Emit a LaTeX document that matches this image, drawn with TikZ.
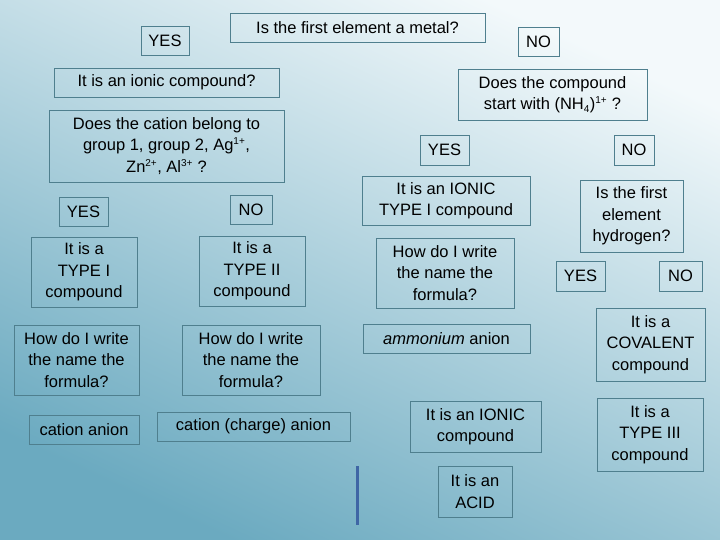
\documentclass[tikz,border=0pt]{standalone}
\usepackage{fontspec}
\setmainfont{Liberation Sans}
\usetikzlibrary{calc}
\definecolor{boxline}{HTML}{4F7F8E}
\definecolor{seapale}{HTML}{F3F9FB}
\definecolor{seadark}{HTML}{6BAAC0}
% box from corner (x1,y1) to (x2,y2) in pixels
\newcommand{\flowbox}[6]{%
  \node[box, minimum width={(#4-#2)*1pt}, minimum height={(#5-#3)*1pt}]
    (#1) at ({(#2+#4)/2},{(#3+#5)/2}) {#6};}
\newcommand{\sups}[1]{\textsuperscript{\fontsize{10}{10}\selectfont #1}}
\begin{document}
\begin{tikzpicture}[
    x=1pt, y=-1pt,
    box/.style={draw=boxline, line width=0.8pt, inner sep=0pt, align=center,
      font=\fontsize{16.5}{21.5}\selectfont},
    bar/.style={draw=boxline!80!blue, line width=3pt}
    ]
    % Background
    \useasboundingbox (0,0) rectangle (720,540);
    \fill[seapale] (0,0) rectangle (720,540);
    \shade[top color=seapale, middle color=seapale, bottom color=seadark,
      shading angle=-25] (0,0) rectangle (720,540);
    % Top row
    \flowbox{yesA}{141}{26}{189}{55}{YES}
    \flowbox{metal}{230}{13}{485}{42}{Is the first element a metal?}
    \flowbox{noA}{518}{27}{559}{56}{NO}
    % Left branch
    \flowbox{ionicq}{54}{68}{279}{97}{It is an ionic compound?}
    \flowbox{cation}{49}{110}{284}{182}{Does the cation belong to\\group 1, group 2, Ag\sups{1+},\\Zn\sups{2+}, Al\sups{3+} ?}
    \flowbox{yesL}{59}{197}{108}{226}{YES}
    \flowbox{noL}{230}{195}{272}{224}{NO}
    \flowbox{typeI}{31}{237}{137}{307}{It is a\\TYPE I\\compound}
    \flowbox{typeII}{199}{236}{305}{306}{It is a\\TYPE II\\compound}
    \flowbox{howL}{14}{325}{139}{395}{How do I write\\the name the\\formula?}
    \flowbox{howM}{182}{325}{320}{395}{How do I write\\the name the\\formula?}
    \flowbox{catan}{29}{415}{139}{444}{cation anion}
    \flowbox{catchg}{157}{412}{350}{441}{cation (charge) anion}
    % Right branch
    \flowbox{ammq}{458}{69}{647}{120}{Does the compound\\start with (NH\textsubscript{\fontsize{10}{10}\selectfont 4})\sups{1+} ?}
    \flowbox{yesR}{420}{135}{469}{165}{YES}
    \flowbox{noR}{614}{135}{654}{165}{NO}
    \flowbox{ionicI}{362}{176}{530}{225}{It is an IONIC\\TYPE I compound}
    \flowbox{howR}{376}{238}{514}{308}{How do I write\\the name the\\formula?}
    \flowbox{amman}{363}{324}{530}{353}{\textit{ammonium} anion}
    \flowbox{hydro}{580}{180}{683}{252}{Is the first\\element\\hydrogen?}
    \flowbox{yesH}{556}{261}{605}{291}{YES}
    \flowbox{noH}{659}{261}{702}{291}{NO}
    \flowbox{coval}{596}{308}{705}{381}{It is a\\COVALENT\\compound}
    \flowbox{ionic}{410}{401}{541}{452}{It is an IONIC\\compound}
    \flowbox{typeIII}{597}{398}{703}{471}{It is a\\TYPE III\\compound}
    \flowbox{acid}{438}{466}{512}{517}{It is an\\ACID}
    % Bar
    \draw[bar] (357,466) -- (357,525);
\end{tikzpicture}
\end{document}
